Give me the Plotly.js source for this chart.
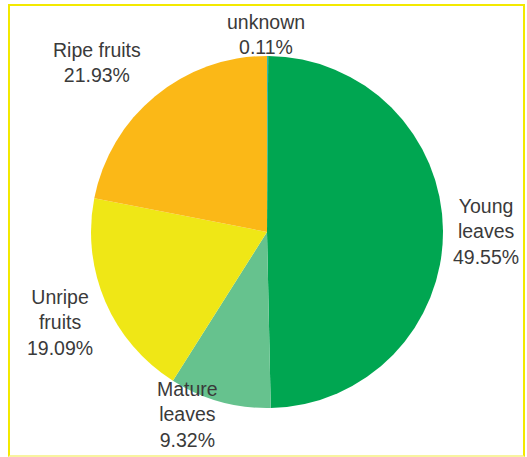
<!DOCTYPE html>
<html>
<head>
<meta charset="utf-8">
<script src="https://cdn.plot.ly/plotly-3.0.1.min.js"></script>
<style>
  html, body { margin: 0; padding: 0; background: #ffffff; }
  #wrap { position: relative; width: 527px; height: 457px; overflow: hidden; }
  #frame { position: absolute; left: 8px; top: 4px; width: 513px; height: 449px;
           border: 2px solid #f3e900; border-bottom-color: #f8f3a0; pointer-events: none; }
  #chart { position: absolute; left: 0; top: 0; width: 527px; height: 457px; }
</style>
</head>
<body>
<div id="wrap">
  <div id="chart"></div>
  <div id="frame"></div>
</div>
<script>
// Data
const categories = ["unknown", "Young leaves", "Mature leaves", "Unripe fruits", "Ripe fruits"];
const labelText = ["unknown", "Young<br>leaves", "Mature<br>leaves", "Unripe<br>fruits", "Ripe fruits"];
const shares = [0.11, 49.55, 9.32, 19.09, 21.93];

// Styles / layout
const colors = ["#2fb8b0", "#00a651", "#66c28e", "#efe716", "#fbb817"];
const labelPixelPos = [[266, 34], [486, 231], [187, 414], [60, 322], [97, 62]];
const W = 527, H = 457;
const M = { l: 40, r: 33, t: 56, b: 49 };
const fontSpec = { family: "Liberation Sans, Arial, sans-serif", size: 19.5, color: "#3a3a3a" };

const trace = {
  type: "pie",
  labels: categories,
  values: shares,
  sort: false,
  direction: "clockwise",
  rotation: 0,
  marker: { colors: colors, line: { width: 0 } },
  textinfo: "none",
  showlegend: false,
  hoverinfo: "none"
};

const pw = W - M.l - M.r, ph = H - M.t - M.b;
const annotations = categories.map((c, i) => ({
  xref: "paper", yref: "paper",
  x: (labelPixelPos[i][0] - M.l) / pw,
  y: (H - M.b - labelPixelPos[i][1]) / ph,
  xanchor: "center", yanchor: "middle",
  align: "center",
  showarrow: false,
  text: labelText[i] + "<br>" + shares[i].toFixed(2) + "%",
  font: fontSpec
}));

const layout = {
  width: W,
  height: H,
  margin: M,
  paper_bgcolor: "#ffffff",
  plot_bgcolor: "#ffffff",
  showlegend: false,
  annotations: annotations
};

Plotly.newPlot("chart", [trace], layout, { displayModeBar: false, staticPlot: true });
</script>
</body>
</html>
